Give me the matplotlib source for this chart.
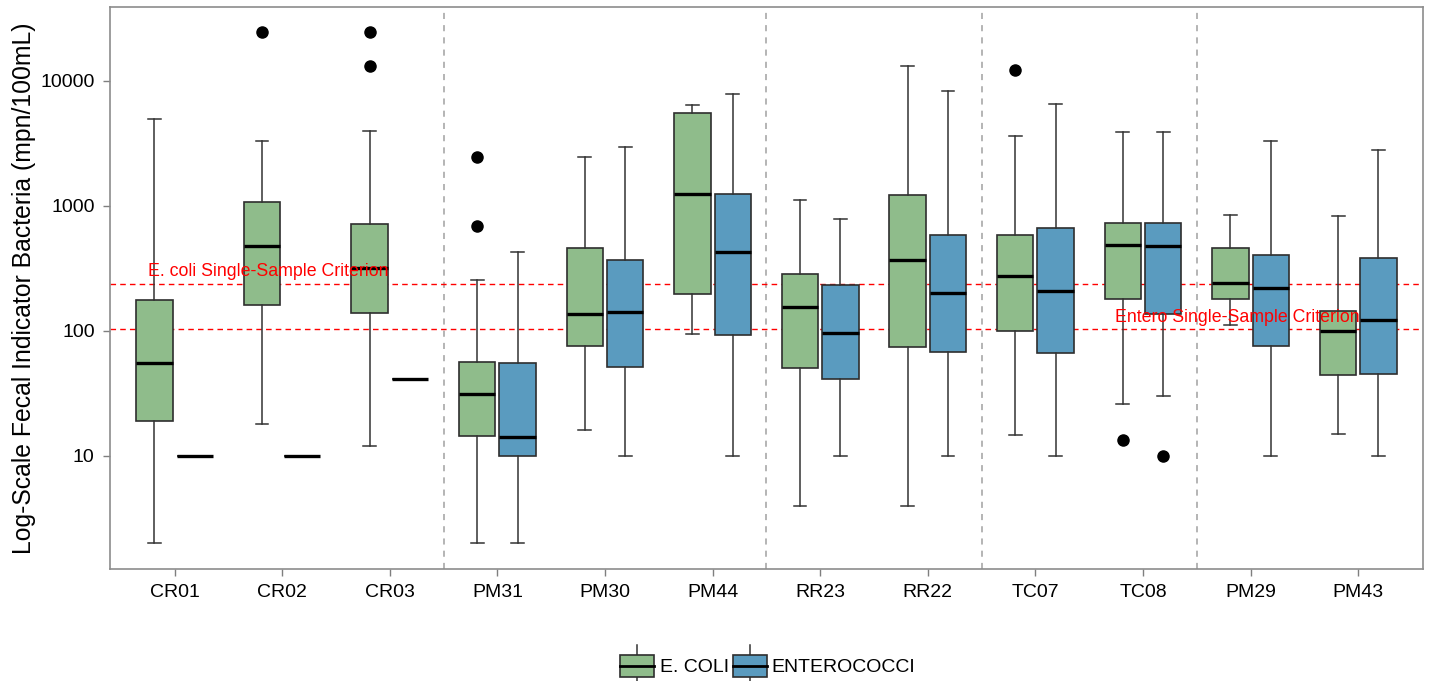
import matplotlib
matplotlib.use("Agg")
import matplotlib.pyplot as plt
from matplotlib.patches import Rectangle
from matplotlib.lines import Line2D
from matplotlib.legend_handler import HandlerBase

plt.rcParams['font.family'] = ['Liberation Sans', 'DejaVu Sans']

sites = ["CR01", "CR02", "CR03", "PM31", "PM30", "PM44", "RR23", "RR22",
         "TC07", "TC08", "PM29", "PM43"]

# E. coli box statistics (mpn/100mL)
ecoli_low = [2, 18, 12, 2, 16, 95, 4, 4, 14.6, 26, 111, 15]
ecoli_q1 = [19, 161, 138, 14.4, 75, 198, 50, 74, 99, 181, 181, 44.6]
ecoli_med = [55, 474, 320, 31, 137, 1243, 154, 366, 273, 489, 240, 100]
ecoli_q3 = [176, 1067, 720, 56, 455, 5495, 287, 1220, 578, 728, 457, 143]
ecoli_high = [4900, 3280, 3920, 257, 2430, 6370, 1100, 13150, 3620, 3890, 844, 824]
ecoli_out = [[], [24196], [24196, 13060], [2430, 685], [], [], [], [], [12140], [13.4], [], []]

# Enterococci box statistics (mpn/100mL)
entero_low = [10, 10, 41, 2, 10, 10, 10, 10, 10, 30, 10, 10]
entero_q1 = [10, 10, 41, 10, 51, 92.5, 41, 68, 66, 135, 75, 45.5]
entero_med = [10, 10, 41, 14.1, 142, 427, 96, 202, 207, 477, 218, 122]
entero_q3 = [10, 10, 41, 55, 368, 1243, 232, 584, 665, 733, 404, 380]
entero_high = [10, 10, 41, 427, 2940, 7760, 780, 8240, 6520, 3890, 3280, 2760]
entero_out = [[], [], [], [], [], [], [], [], [], [10], [], []]

ecoli_criterion = 235
entero_criterion = 104
group_breaks = [3.5, 6.5, 8.5, 10.5]

green = "#8FBC8B"
blue = "#5A9BBF"
edge = "#2E2E2E"


def stats(low, q1, med, q3, high, out):
    return [dict(whislo=a, q1=b, med=c, q3=d, whishi=e, fliers=f)
            for a, b, c, d, e, f in zip(low, q1, med, q3, high, out)]


fig = plt.figure(figsize=(14.30, 6.81), dpi=100)
ax = fig.add_axes([0.0769, 0.1645, 0.9181, 0.8248])

xs = list(range(1, len(sites) + 1))
off = 0.1875
bw = 0.3375

common = dict(widths=bw, capwidths=0.12, patch_artist=True, manage_ticks=False,
              boxprops=dict(edgecolor=edge, linewidth=1.2),
              whiskerprops=dict(color="#333333", linewidth=1.1),
              capprops=dict(color="#333333", linewidth=1.1),
              medianprops=dict(color="black", linewidth=2.4),
              flierprops=dict(marker="o", markerfacecolor="black",
                              markeredgecolor="black", markersize=8))

b1 = ax.bxp(stats(ecoli_low, ecoli_q1, ecoli_med, ecoli_q3, ecoli_high, ecoli_out),
            positions=[x - off for x in xs], **common)
b2 = ax.bxp(stats(entero_low, entero_q1, entero_med, entero_q3, entero_high, entero_out),
            positions=[x + off for x in xs], **common)
for p in b1["boxes"]:
    p.set_facecolor(green)
for p in b2["boxes"]:
    p.set_facecolor(blue)

ax.set_yscale("log")
ax.set_ylim(10 ** 0.097, 10 ** 4.585)
ax.set_xlim(0.4, 12.6)
ax.set_yticks([10, 100, 1000, 10000])
ax.set_yticklabels(["10", "100", "1000", "10000"])
ax.yaxis.set_minor_locator(matplotlib.ticker.NullLocator())
ax.set_xticks(xs)
ax.set_xticklabels(sites)
ax.tick_params(axis="both", labelsize=14, colors="#7F7F7F", length=5, width=1.0,
               labelcolor="black", pad=6)

for s in ax.spines.values():
    s.set_color("#8C8C8C")
    s.set_linewidth(1.2)

for gx in group_breaks:
    ax.axvline(gx, color="#A0A0A0", linestyle=(0, (4, 4)), linewidth=1.1, zorder=0)

ax.axhline(ecoli_criterion, color="red", linestyle=(0, (4, 3)), linewidth=1.0, zorder=0)
ax.axhline(entero_criterion, color="red", linestyle=(0, (4, 3)), linewidth=1.0, zorder=0)
ax.text(1.87, 300, "E. coli Single-Sample Criterion", color="red", fontsize=12.8,
        ha="center", va="center")
ax.text(10.88, 128, "Entero Single-Sample Criterion", color="red", fontsize=12.8,
        ha="center", va="center")

ax.set_ylabel("Log-Scale Fecal Indicator Bacteria (mpn/100mL)", fontsize=17.8, labelpad=3)


class BoxHandler(HandlerBase):
    def create_artists(self, legend, orig_handle, xdescent, ydescent, width, height,
                       fontsize, trans):
        x0, y0 = -xdescent, -ydescent
        cx = x0 + width / 2
        wl = Line2D([cx, cx], [y0 - 0.45 * height, y0 + 1.45 * height], color="#333333",
                    linewidth=1.1, transform=trans)
        r = Rectangle((x0, y0), width, height, facecolor=orig_handle.get_facecolor(),
                      edgecolor=edge, linewidth=1.2, transform=trans)
        m = Line2D([x0, x0 + width], [y0 + height / 2] * 2, color="black",
                   linewidth=2.0, transform=trans)
        return [wl, r, m]


h1 = Rectangle((0, 0), 1, 1, facecolor=green)
h2 = Rectangle((0, 0), 1, 1, facecolor=blue)
fig.legend([h1, h2], ["E. COLI", "ENTEROCOCCI"], handler_map={Rectangle: BoxHandler()},
           loc="center", bbox_to_anchor=(0.537, 0.022), ncol=2, frameon=False,
           fontsize=14, handlelength=1.75, handleheight=1.4, handletextpad=0.27,
           columnspacing=0.2)

fig.savefig("out.png", dpi=100)
